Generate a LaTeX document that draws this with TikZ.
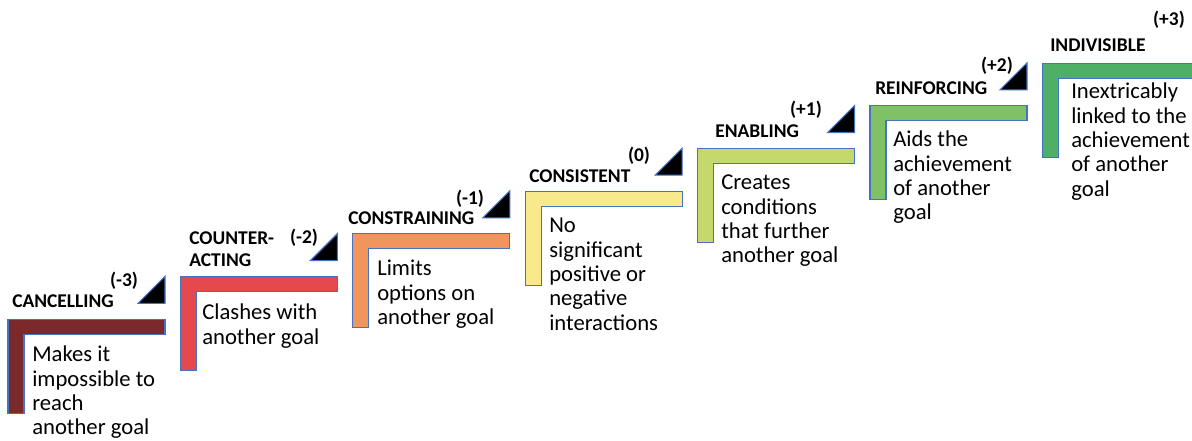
\documentclass[tikz,border=0pt]{standalone}
\usepackage{fontspec}
\setmainfont{Carlito}
\definecolor{outl}{HTML}{4472C4}
\definecolor{cA}{HTML}{7B2A2B}
\definecolor{cB}{HTML}{E5484D}
\definecolor{cC}{HTML}{F2955C}
\definecolor{cD}{HTML}{F8E98B}
\definecolor{cE}{HTML}{C5D86B}
\definecolor{cF}{HTML}{80C165}
\definecolor{cG}{HTML}{4DB066}
\newcommand\stk[1]{\begin{tabular}[t]{@{}l@{}}#1\end{tabular}}
\newcommand\Lstep[3]{\draw[stepshape,fill=#3] (#1,#2) -- ++(157,0) -- ++(0,15) -- ++(-141,0) -- ++(0,79) -- ++(-16,0) -- cycle;}
\newcommand\Tri[2]{\draw[tri] ({#1+130},{#2-16}) -- ++(27,0) -- ++(0,-27) -- cycle;}
\begin{document}
\begin{tikzpicture}[x=0.75pt,y=-0.75pt,
  stepshape/.style={draw=outl,line width=0.8pt},
  tri/.style={fill=black,draw=outl,line width=0.8pt},
  lab/.style={font=\fontsize{14.6}{16.5}\selectfont\bfseries,inner sep=0pt,anchor=base west},
  score/.style={font=\fontsize{14.6}{16.5}\selectfont\bfseries,inner sep=0pt,anchor=base},
  body/.style={font=\fontsize{17}{18.2}\selectfont,inner sep=0pt,anchor=base west}]
\useasboundingbox (0,0) rectangle (1192,441);
\clip (0,0) rectangle (1192,441);
% steps
\Lstep{8}{319.3}{cA}
\Lstep{180.4}{276.6}{cB}
\Lstep{352.8}{233.9}{cC}
\Lstep{525.2}{191.2}{cD}
\Lstep{697.6}{148.5}{cE}
\Lstep{870}{105.8}{cF}
\Lstep{1042.4}{63.1}{cG}
% triangles
\Tri{8}{319.3}
\Tri{180.4}{276.6}
\Tri{352.8}{233.9}
\Tri{525.2}{191.2}
\Tri{697.6}{148.5}
\Tri{870}{105.8}
% labels
\node[lab] (l1) at (12,308) {CANCELLING};
\node[lab] (l2) at (189,245) {\stk{COUNTER-\\ACTING}};
\node[lab] (l3) at (348,225) {CONSTRAINING};
\node[lab] (l4) at (529,183) {CONSISTENT};
\node[lab] (l5) at (715,138) {ENABLING};
\node[lab] (l6) at (875,95) {REINFORCING};
\node[lab] (l7) at (1050,52) {INDIVISIBLE};
% scores
\node[score] (s1) at (124,287) {(-3)};
\node[score] (s2) at (304,244) {(-2)};
\node[score] (s3) at (470,205) {(-1)};
\node[score] (s4) at (639,162) {(0)};
\node[score] (s5) at (806,116) {(+1)};
\node[score] (s6) at (997,72) {(+2)};
\node[score] (s7) at (1169,26) {(+3)};
% body texts
\node[body] (b1) at (32,362) {\stk{Makes it\\impossible to\\reach\\another goal}};
\node[body] (b2) at (202,320) {\stk{Clashes with\\another goal}};
\node[body] (b3) at (377,276) {\stk{Limits\\options on\\another goal}};
\node[body] (b4) at (549,233) {\stk{No\\significant\\positive or\\negative\\interactions}};
\node[body] (b5) at (721,190) {\stk{Creates\\conditions\\that further\\another goal}};
\node[body] (b6) at (893,147) {\stk{Aids the\\achievement\\of another\\goal}};
\node[body] (b7) at (1071,99) {\stk{Inextricably\\linked to the\\achievement\\of another\\goal}};
\end{tikzpicture}
\end{document}
